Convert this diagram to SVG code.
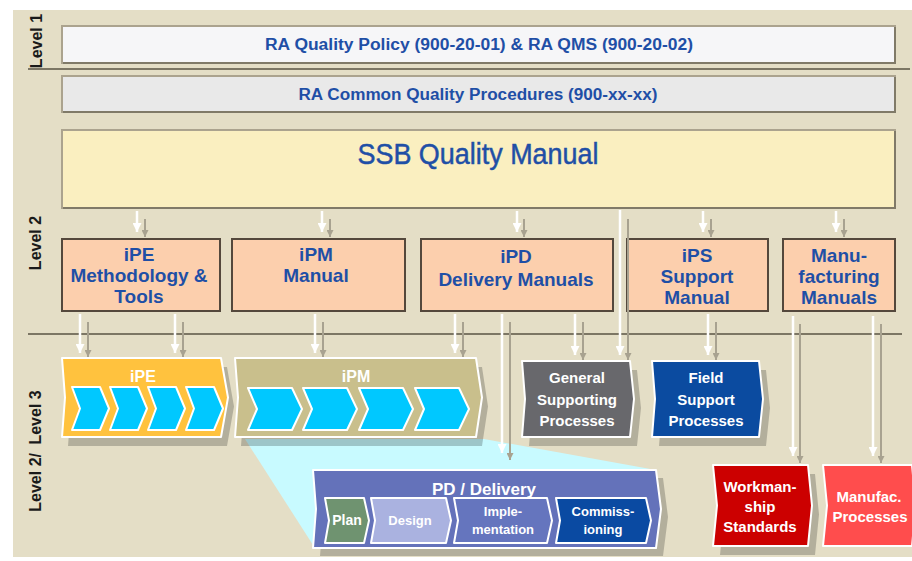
<svg xmlns="http://www.w3.org/2000/svg" width="912" height="561" viewBox="0 0 912 561">
  <style>
    text { font-family: "Liberation Sans", Arial, sans-serif; }
    .lvl { font-size: 16px; font-weight: bold; fill: #1a1a1a; text-anchor: middle; dominant-baseline: central; }
    .hdr { font-size: 16px; font-weight: bold; fill: #1F4FA6; text-anchor: middle; }
    .l2 { font-size: 19px; font-weight: bold; fill: #1F4FA6; text-anchor: middle; }
    .wt { font-weight: bold; fill: #ffffff; text-anchor: middle; }
    .w15 { font-size: 15px; }
    .w13 { font-size: 13px; }
    .shadow { fill: #000000; fill-opacity: 0.21; }
    .edge { stroke: #ffffff; stroke-width: 2; stroke-linejoin: round; }
    .chev { fill: #00C8FF; stroke: #ffffff; stroke-width: 2; stroke-linejoin: round; }
    .peach { fill: #FCCFAD; stroke: #54483C; stroke-width: 2; }
    .band { stroke: #ABA38E; stroke-width: 2; }
    .band-dk { fill: none; stroke: #807A68; stroke-width: 2; }
    .sep { stroke: #7C7664; stroke-width: 2; }
    .wline { stroke: #ffffff; stroke-width: 2.5; fill: none; marker-end: url(#hw); }
    .gline { stroke: #A8A290; stroke-width: 2; fill: none; marker-end: url(#hg); }
  </style>
  <defs>
    <marker id="hw" markerUnits="userSpaceOnUse" viewBox="0 0 10 10" refX="10" refY="5" markerWidth="9" markerHeight="9" orient="auto">
      <path d="M0,0 L10,5 L0,10 z" fill="#ffffff"/>
    </marker>
    <marker id="hg" markerUnits="userSpaceOnUse" viewBox="0 0 10 10" refX="10" refY="5" markerWidth="7" markerHeight="7" orient="auto">
      <path d="M0,0 L10,5 L0,10 z" fill="#A8A290"/>
    </marker>
  </defs>

  <!-- canvas -->
  <rect x="0" y="0" width="912" height="561" fill="#ffffff"/>
  <rect x="13" y="10" width="899" height="547" fill="#E4DEC6"/>

  <!-- level separators -->
  <g id="separators">
    <line class="sep" x1="28" y1="69" x2="910" y2="69"/>
    <line class="sep" x1="28" y1="334" x2="902" y2="334"/>
  </g>

  <!-- level labels -->
  <g id="level-labels">
    <text class="lvl" transform="translate(36,41) rotate(-90)">Level 1</text>
    <text class="lvl" transform="translate(35,243) rotate(-90)">Level 2</text>
    <text class="lvl" transform="translate(35,451) rotate(-90)">Level 2/ <tspan dx="4">Level 3</tspan></text>
  </g>

  <!-- level 1 and 2 bands -->
  <g id="policy">
    <rect class="band" x="62" y="26" width="833" height="37" fill="#F6F6F8"/>
    <path class="band-dk" d="M63,63 H895 V27"/>
    <text class="hdr" x="479" y="50" textLength="428" lengthAdjust="spacingAndGlyphs">RA Quality Policy (900-20-01) &amp; RA QMS  (900-20-02)</text>
  </g>
  <g id="procedures">
    <rect class="band" x="62" y="76" width="833" height="36" fill="#E9E9E9"/>
    <path class="band-dk" d="M63,112 H895 V77"/>
    <text class="hdr" x="478" y="100" textLength="359" lengthAdjust="spacingAndGlyphs">RA Common Quality Procedures (900-xx-xx)</text>
  </g>
  <g id="ssb-manual">
    <rect class="band" x="62" y="130" width="833" height="78" fill="#FAEFC0"/>
    <path class="band-dk" d="M63,208 H895 V131"/>
    <text x="478" y="164" font-size="30" fill="#1F4FA6" stroke="#1F4FA6" stroke-width="0.5" text-anchor="middle" textLength="241" lengthAdjust="spacingAndGlyphs">SSB Quality Manual</text>
  </g>

  <!-- level 2 manuals -->
  <g id="ipe-manual">
    <rect class="peach" x="62" y="239" width="158" height="72"/>
    <text class="l2" x="139" y="261">iPE</text>
    <text class="l2" x="139" y="282">Methodology &amp;</text>
    <text class="l2" x="139" y="303">Tools</text>
  </g>
  <g id="ipm-manual">
    <rect class="peach" x="232" y="239" width="173" height="72"/>
    <text class="l2" x="316" y="261">iPM</text>
    <text class="l2" x="316" y="282">Manual</text>
  </g>
  <g id="ipd-manual">
    <rect class="peach" x="421" y="239" width="192" height="72"/>
    <text class="l2" x="516" y="263">iPD</text>
    <text class="l2" x="516" y="286">Delivery Manuals</text>
  </g>
  <g id="ips-manual">
    <rect class="peach" x="627" y="239" width="141" height="72"/>
    <text class="l2" x="697" y="262">iPS</text>
    <text class="l2" x="697" y="283">Support</text>
    <text class="l2" x="697" y="304">Manual</text>
  </g>
  <g id="mfg-manual">
    <rect class="peach" x="783" y="239" width="112" height="72"/>
    <text class="l2" x="839" y="262">Manu-</text>
    <text class="l2" x="839" y="283">facturing</text>
    <text class="l2" x="839" y="304">Manuals</text>
  </g>

  <!-- zoom wedge from iPM down to the delivery phases -->
  <polygon id="ipm-zoom" points="245,439 484,439 656,470 313,545" fill="#C8FAFF"/>

  <!-- level 3 processes -->
  <g id="ipe-process">
    <path class="shadow" transform="translate(6,9)" d="M62,358 L221,358 L228,397.5 L221,437 L62,437 L65,397.5 Z"/>
    <path class="edge" fill="#FFC23E" d="M62,358 L221,358 L228,397.5 L221,437 L62,437 L65,397.5 Z"/>
    <text class="wt" x="143" y="382" font-size="16">iPE</text>
    <polygon class="chev" points="72,387 100,387 109,408.5 100,430 72,430 80,408.5"/>
    <polygon class="chev" points="110,387 138,387 147,408.5 138,430 110,430 118,408.5"/>
    <polygon class="chev" points="148,387 176,387 185,408.5 176,430 148,430 156,408.5"/>
    <polygon class="chev" points="186,387 214,387 223,408.5 214,430 186,430 194,408.5"/>
  </g>
  <g id="ipm-process">
    <path class="shadow" transform="translate(6,9)" d="M235,358 L476,358 L482,397.5 L476,437 L235,437 L238,397.5 Z"/>
    <path class="edge" fill="#C9BF8C" d="M235,358 L476,358 L482,397.5 L476,437 L235,437 L238,397.5 Z"/>
    <text class="wt" x="356" y="382" font-size="16">iPM</text>
    <polygon class="chev" points="248,388 292,388 302,409 292,430 248,430 257,409"/>
    <polygon class="chev" points="303,388 347,388 357,409 347,430 303,430 312,409"/>
    <polygon class="chev" points="359,388 403,388 413,409 403,430 359,430 368,409"/>
    <polygon class="chev" points="415,388 459,388 469,409 459,430 415,430 424,409"/>
  </g>
  <g id="general-support">
    <path class="shadow" transform="translate(7,9)" d="M522,361 L630,361 L634,399 L630,437 L522,437 L525,399 Z"/>
    <path class="edge" fill="#68686C" d="M522,361 L630,361 L634,399 L630,437 L522,437 L525,399 Z"/>
    <text class="wt w15" x="577" y="383">General</text>
    <text class="wt w15" x="577" y="405">Supporting</text>
    <text class="wt w15" x="577" y="426">Processes</text>
  </g>
  <g id="field-support">
    <path class="shadow" transform="translate(7,9)" d="M652,361 L759,361 L763,399 L759,437 L652,437 L655,399 Z"/>
    <path class="edge" fill="#0B4BA0" d="M652,361 L759,361 L763,399 L759,437 L652,437 L655,399 Z"/>
    <text class="wt w15" x="706" y="383">Field</text>
    <text class="wt w15" x="706" y="405">Support</text>
    <text class="wt w15" x="706" y="426">Processes</text>
  </g>
  <g id="pd-delivery">
    <path class="shadow" transform="translate(7,8)" d="M313,470 L656,470 L661,509 L656,548 L313,548 L316,509 Z"/>
    <path class="edge" fill="#6472BA" d="M313,470 L656,470 L661,509 L656,548 L313,548 L316,509 Z"/>
    <text class="wt" x="484" y="495" font-size="17">PD / Delivery</text>
    <path class="edge" fill="#6F9370" d="M325,498 L364,498 L369,520.5 L364,543 L325,543 L329,520.5 Z"/>
    <path class="edge" fill="#AAB2E0" d="M371,498 L446,498 L451,520.5 L446,543 L371,543 L375,520.5 Z"/>
    <path class="edge" fill="#6575BE" d="M454,498 L547,498 L552,520.5 L547,543 L454,543 L458,520.5 Z"/>
    <path class="edge" fill="#0A4AA2" d="M556,498 L646,498 L651,520.5 L646,543 L556,543 L560,520.5 Z"/>
    <text class="wt" x="347" y="525" font-size="14">Plan</text>
    <text class="wt w13" x="410" y="525">Design</text>
    <text class="wt w13" x="503" y="516">Imple-</text>
    <text class="wt w13" x="503" y="534">mentation</text>
    <text class="wt w13" x="603" y="516">Commiss-</text>
    <text class="wt w13" x="603" y="534">ioning</text>
  </g>
  <g id="workmanship">
    <path class="shadow" transform="translate(7,9)" d="M713,465 L808,465 L812,505.5 L808,546 L713,546 L717,505.5 Z"/>
    <path class="edge" fill="#CC0000" d="M713,465 L808,465 L812,505.5 L808,546 L713,546 L717,505.5 Z"/>
    <text class="wt w15" x="760" y="492">Workman-</text>
    <text class="wt w15" x="760" y="512">ship</text>
    <text class="wt w15" x="760" y="532">Standards</text>
  </g>
  <g id="mfg-processes">
    <path class="edge" fill="#FF4D4D" d="M823,465 L912,465 L916,505.5 L912,546 L823,546 L827,505.5 Z"/>
    <text class="wt w15" x="869" y="502">Manufac.</text>
    <text class="wt w15" x="870" y="522">Processes</text>
  </g>

  <!-- connectors: white arrow with a grey drop copy beside it -->
  <g id="connectors">
    <line class="gline" x1="145" y1="219" x2="145" y2="237"/>
    <line class="wline" x1="137" y1="211" x2="137" y2="232"/>
    <line class="gline" x1="330" y1="219" x2="330" y2="237"/>
    <line class="wline" x1="322" y1="211" x2="322" y2="232"/>
    <line class="gline" x1="524" y1="219" x2="524" y2="237"/>
    <line class="wline" x1="517" y1="211" x2="517" y2="232"/>
    <line class="gline" x1="711" y1="219" x2="711" y2="237"/>
    <line class="wline" x1="703" y1="211" x2="703" y2="232"/>
    <line class="gline" x1="844" y1="219" x2="844" y2="237"/>
    <line class="wline" x1="836" y1="211" x2="836" y2="232"/>

    <line class="gline" x1="628" y1="219" x2="628" y2="360"/>
    <line class="wline" x1="620" y1="210" x2="620" y2="355"/>

    <line class="gline" x1="88" y1="322" x2="88" y2="357"/>
    <line class="wline" x1="80" y1="314" x2="80" y2="353"/>
    <line class="gline" x1="183" y1="322" x2="183" y2="357"/>
    <line class="wline" x1="175" y1="314" x2="175" y2="353"/>
    <line class="gline" x1="323" y1="322" x2="323" y2="357"/>
    <line class="wline" x1="315" y1="314" x2="315" y2="353"/>
    <line class="gline" x1="463" y1="322" x2="463" y2="357"/>
    <line class="wline" x1="455" y1="314" x2="455" y2="353"/>
    <line class="gline" x1="510" y1="322" x2="510" y2="460"/>
    <line class="wline" x1="502" y1="314" x2="502" y2="453"/>
    <line class="gline" x1="583" y1="322" x2="583" y2="360"/>
    <line class="wline" x1="575" y1="314" x2="575" y2="355"/>
    <line class="gline" x1="716" y1="322" x2="716" y2="360"/>
    <line class="wline" x1="708" y1="314" x2="708" y2="355"/>
    <line class="gline" x1="800" y1="324" x2="800" y2="463"/>
    <line class="wline" x1="793" y1="316" x2="793" y2="456"/>
    <line class="gline" x1="881" y1="324" x2="881" y2="463"/>
    <line class="wline" x1="873" y1="316" x2="873" y2="456"/>
  </g>
</svg>
